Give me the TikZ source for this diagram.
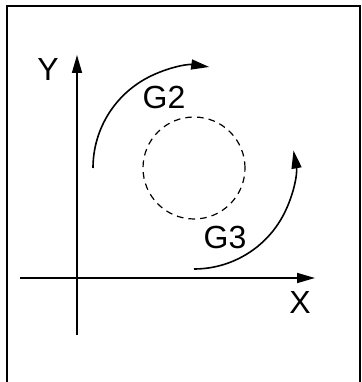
\documentclass[tikz,border=0pt]{standalone}
\usepackage{fontspec}
\setmainfont{Liberation Sans}
\usetikzlibrary{arrows.meta}
\tikzset{
  axis/.style={line width=1.2pt, -{Triangle[length=13.5pt,width=7.5pt]}},
  turn/.style={line width=1.2pt, -{Triangle[length=13.5pt,width=7.5pt]}},
  lbl/.style={font=\fontsize{24}{28}\selectfont, inner sep=0pt}
}
\begin{document}
\begin{tikzpicture}[x=0.75pt, y=0.75pt]
  \useasboundingbox (0,0) rectangle (361,382);
  % frame
  \draw[line width=1.5pt] (7,-10) -- (7,376) -- (359.5,376) -- (359.5,-10);

  % axes
  \coordinate (xs) at (20,104);
  \coordinate (xe) at (315,104);
  \coordinate (ys) at (77,47);
  \coordinate (ye) at (77,327);
  \draw[axis] (xs) -- (xe);
  \draw[axis] (ys) -- (ye);
  \node[lbl] (ylab) at (48,313) {Y};
  \node[lbl] (xlab) at (300,80) {X};

  % circle and the two moves round it
  \coordinate (c) at (194,214);
  \draw[line width=0.9pt, dash pattern=on 5pt off 3.8pt] (c) circle (51);
  \draw[turn] ([shift={(180:101)}]c) arc (180:82:102);
  \draw[turn] ([shift={(270:101)}]c) arc (270:370:101);
  \node[lbl] (g2) at (164,285) {G2};
  \node[lbl] (g3) at (225,145) {G3};
\end{tikzpicture}
\end{document}
